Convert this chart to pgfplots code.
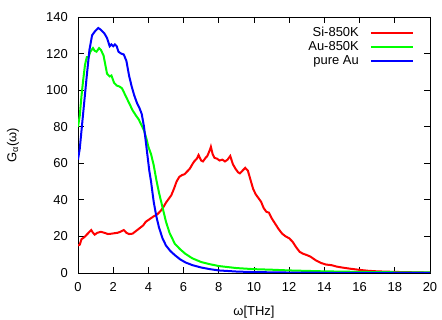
\documentclass[border=0pt]{standalone}
\usepackage{fontspec}
\setmainfont{Liberation Sans}
\usepackage{pgfplots}
\pgfplotsset{compat=1.18}
\pgfplotstableread{
x y
0 15
0.1 15.5
0.2 18.5
0.35 19.5
0.5 21
0.6 22
0.75 23.5
0.85 22
0.95 21
1.1 22
1.3 22.5
1.5 22
1.7 21.3
1.9 21.5
2.1 21.8
2.25 22
2.4 22.5
2.6 23.5
2.75 22
2.9 21.3
3.1 21.5
3.3 23
3.5 24.5
3.7 26
3.85 28
4.0 29
4.15 30
4.3 31
4.5 32
4.7 34
4.85 36
5.0 38.5
5.15 40.5
5.3 42.5
5.45 46
5.6 50
5.75 52.5
5.9 53.5
6.05 54
6.2 55.5
6.35 57
6.5 59.5
6.6 61
6.75 62.5
6.85 64.5
7.0 61.5
7.1 61
7.25 63
7.35 64
7.5 67.5
7.55 69
7.65 65
7.75 63
7.9 62.5
8.05 61.5
8.2 62
8.35 61
8.5 62
8.65 64
8.8 59.5
8.95 57
9.1 55
9.2 54.5
9.35 56
9.5 57.5
9.65 56
9.8 51
9.95 46
10.1 43
10.25 41
10.4 39
10.55 35.5
10.7 33.5
10.85 33
11.0 30
11.2 27
11.4 24
11.6 21.5
11.8 20
12.0 19
12.2 17
12.4 14
12.6 11.5
12.8 10.5
13.0 9.8
13.2 9
13.5 7
13.8 5.5
14.1 4.6
14.4 4.3
14.7 3.5
15.0 3
15.5 2.3
16 1.7
16.5 1.2
17 0.9
18 0.6
19 0.4
20 0.2
}\sidata
\pgfplotstableread{
x y
0 80
0.1 86
0.2 97
0.3 106
0.4 114
0.5 118
0.6 118
0.7 121
0.85 123
0.95 121.5
1.05 121
1.2 123
1.3 122
1.45 119
1.55 114
1.65 109
1.8 107.5
1.9 108
2.05 104
2.2 102.5
2.35 102
2.5 101
2.65 98
2.8 95
2.95 92
3.1 89
3.3 86
3.45 84
3.6 81
3.75 78
3.9 73
4.0 69
4.15 65
4.3 59
4.45 51
4.6 44
4.8 36
5.0 28
5.2 22
5.5 16
5.8 13
6.1 10.5
6.5 8
7 6
7.5 4.8
8 3.8
9 2.7
10 2.1
11 1.8
12 1.4
14 0.9
16 0.6
18 0.4
20 0.3
}\audata
\pgfplotstableread{
x y
0 62
0.1 68
0.3 88
0.5 108
0.65 122
0.8 130
0.95 132
1.15 134
1.3 133
1.5 131
1.65 128.5
1.8 124
1.9 125
2.0 124
2.1 125
2.2 124
2.3 121
2.45 120
2.6 119.5
2.75 116
2.9 108
3.05 102
3.2 97
3.35 93
3.5 90
3.62 87
3.75 80
3.85 72
3.95 64
4.05 56
4.15 50
4.3 39
4.45 31
4.6 25
4.8 19
5.0 15
5.25 12
5.5 9.8
5.8 7.5
6.1 5.8
6.5 4.3
7 3
7.5 2.1
8 1.4
9 0.8
10 0.5
12 0.25
14 0.12
16 0.06
20 0.02
}\puredata
\begin{document}
\begin{tikzpicture}
\useasboundingbox (-78bp,-47bp) rectangle (364bp,273bp);
\begin{axis}[
  at={(0,0)}, anchor=south west,
  scale only axis, width=352bp, height=256bp,
  xmin=0, xmax=20, ymin=0, ymax=140,
  xtick={0,2,...,20}, ytick={0,20,...,140},
  /pgf/number format/assume math mode=true,
  tick label style={font=\fontsize{13}{13}\selectfont, inner sep=0pt},
  xticklabel style={anchor=center, yshift=-14bp},
  yticklabel style={anchor=east, xshift=-10bp},
  major tick length=6bp,
  tick style={black, line width=0.8bp},
  axis line style={line width=0.8bp},
  every axis plot/.append style={line width=2bp},
  every axis x label/.style={at={(axis description cs:0.5,0)}, anchor=center, yshift=-39bp, font=\fontsize{13}{13}\selectfont},
  every axis y label/.style={at={(axis description cs:0,0.5)}, xshift=-65bp, rotate=90, anchor=center, font=\fontsize{13}{13}\selectfont},
  xlabel={ω[THz]},
  ylabel={G\textsubscript{α}(ω)},
  legend plot pos=right,
  legend cell align=right,
  legend style={draw=none, fill=none, at={(1,1)}, anchor=north east, xshift=-16bp, yshift=-8bp, font=\fontsize{13}{13}\selectfont, row sep=-0.5bp, inner sep=0pt},
  legend image code/.code={\path (0bp,0bp); \draw[#1, line width=2bp] (9bp,0bp) -- (51bp,0bp);},
]
\addplot[color=red] table[x=x,y=y] {\sidata};
\addlegendentry{Si-850K}
\addplot[color=green] table[x=x,y=y] {\audata};
\addlegendentry{Au-850K}
\addplot[color=blue] table[x=x,y=y] {\puredata};
\addlegendentry{pure Au}
\end{axis}
\end{tikzpicture}
\end{document}
